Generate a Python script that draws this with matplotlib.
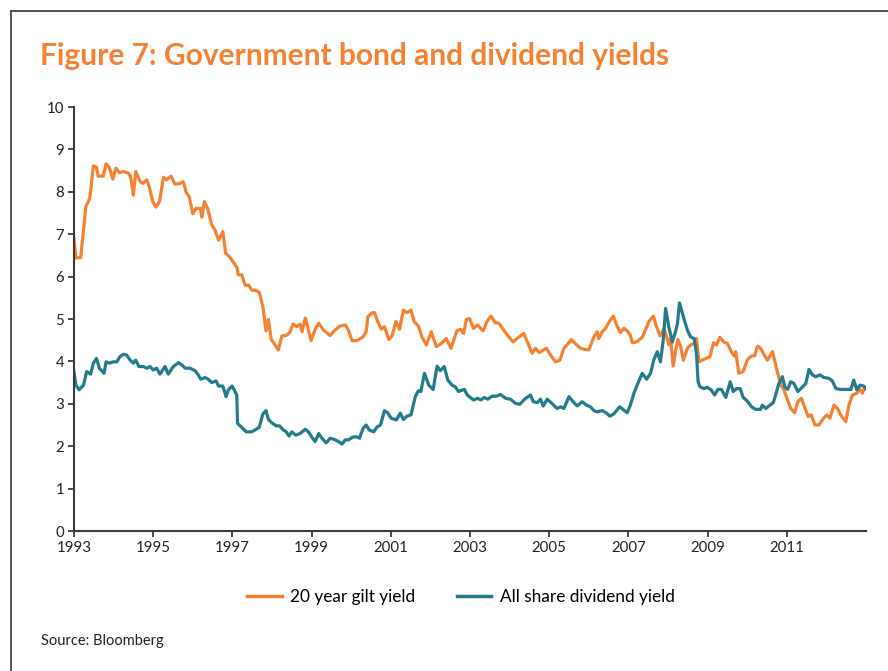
import numpy as np
import matplotlib
matplotlib.use("Agg")
import matplotlib.pyplot as plt
from matplotlib.lines import Line2D

START = 1993

# 20 year gilt yield (%), time given as years after start of 1993
gilt_t = [
    0.00, 0.05, 0.17, 0.30, 0.40, 0.49, 0.57, 0.61, 0.74, 0.81, 0.89, 0.98,
    1.06, 1.15, 1.25, 1.37, 1.43, 1.50, 1.56, 1.67, 1.74, 1.84, 1.90, 1.99,
    2.07, 2.16, 2.26, 2.34, 2.45, 2.55, 2.68, 2.76, 2.83, 2.91, 3.00, 3.08,
    3.19, 3.23, 3.29, 3.38, 3.48, 3.56, 3.65, 3.76, 3.83, 3.93, 4.03, 4.11,
    4.15, 4.24, 4.32, 4.41, 4.49, 4.58, 4.68, 4.77, 4.85, 4.91, 4.98, 5.08,
    5.16, 5.25, 5.38, 5.46, 5.53, 5.63, 5.71, 5.76, 5.84, 5.90, 5.99, 6.09,
    6.18, 6.30, 6.47, 6.57, 6.71, 6.85, 6.93, 7.02, 7.15, 7.30, 7.38, 7.42,
    7.53, 7.59, 7.67, 7.76, 7.84, 7.95, 8.03, 8.13, 8.22, 8.32, 8.41, 8.51,
    8.59, 8.70, 8.79, 8.90, 9.02, 9.15, 9.27, 9.40, 9.52, 9.67, 9.76, 9.84,
    9.91, 9.99, 10.09, 10.19, 10.33, 10.43, 10.53, 10.64, 10.73, 10.85, 10.98,
    11.09, 11.19, 11.36, 11.48, 11.57, 11.65, 11.75, 11.93, 12.05, 12.16,
    12.27, 12.37, 12.45, 12.56, 12.66, 12.79, 12.92, 13.00, 13.13, 13.21,
    13.25, 13.34, 13.42, 13.52, 13.62, 13.72, 13.80, 13.89, 13.97, 14.05,
    14.10, 14.21, 14.35, 14.43, 14.52, 14.63, 14.71, 14.80, 14.90, 14.98,
    15.02, 15.07, 15.13, 15.19, 15.25, 15.32, 15.39, 15.49, 15.57, 15.66,
    15.72, 15.78, 15.91, 16.06, 16.15, 16.23, 16.31, 16.41, 16.50, 16.60,
    16.67, 16.71, 16.79, 16.90, 17.00, 17.11, 17.19, 17.26, 17.34, 17.42,
    17.51, 17.64, 17.75, 17.85, 17.93, 18.02, 18.10, 18.20, 18.28, 18.37,
    18.45, 18.54, 18.62, 18.71, 18.81, 18.93, 19.01, 19.09, 19.19, 19.28,
    19.36, 19.49, 19.57, 19.66, 19.77, 19.85, 19.91, 19.97, 20.00,
]
gilt_yield = [
    6.90, 6.44, 6.45, 7.65, 7.85, 8.61, 8.58, 8.37, 8.37, 8.66, 8.58, 8.30,
    8.56, 8.45, 8.48, 8.44, 8.36, 7.92, 8.48, 8.24, 8.20, 8.28, 8.12, 7.77,
    7.64, 7.77, 8.34, 8.28, 8.37, 8.18, 8.20, 8.24, 8.00, 7.88, 7.48, 7.61,
    7.61, 7.40, 7.77, 7.59, 7.22, 7.10, 6.86, 7.06, 6.55, 6.47, 6.33, 6.23,
    6.04, 6.04, 5.80, 5.80, 5.68, 5.68, 5.63, 5.29, 4.72, 4.99, 4.52, 4.39,
    4.27, 4.60, 4.62, 4.70, 4.88, 4.82, 4.88, 4.70, 5.02, 4.82, 4.49, 4.76,
    4.90, 4.74, 4.61, 4.72, 4.83, 4.86, 4.74, 4.49, 4.49, 4.58, 4.70, 5.05,
    5.15, 5.15, 4.94, 4.76, 4.82, 4.52, 4.60, 4.94, 4.76, 5.21, 5.15, 5.21,
    4.94, 4.83, 4.57, 4.39, 4.70, 4.35, 4.42, 4.54, 4.31, 4.72, 4.76, 4.66,
    4.99, 5.01, 4.78, 4.86, 4.72, 4.94, 5.07, 4.91, 4.90, 4.74, 4.58,
    4.46, 4.54, 4.66, 4.39, 4.19, 4.31, 4.21, 4.31, 4.13, 3.99,
    4.03, 4.31, 4.39, 4.52, 4.42, 4.31, 4.28, 4.27, 4.58, 4.70,
    4.54, 4.70, 4.78, 4.94, 5.07, 4.82, 4.68, 4.78, 4.72, 4.62,
    4.44, 4.46, 4.57, 4.74, 4.94, 5.07, 4.82, 4.60, 4.78, 4.54,
    4.39, 4.54, 3.89, 4.23, 4.52, 4.35, 4.03, 4.31, 4.39, 4.42,
    4.54, 3.99, 4.05, 4.11, 4.44, 4.39, 4.57, 4.46, 4.42, 4.23,
    4.13, 4.23, 3.72, 3.76, 4.03, 4.13, 4.13, 4.36, 4.31, 4.17,
    4.03, 4.23, 3.80, 3.44, 3.33, 3.09, 2.89, 2.79, 3.05, 3.13,
    2.93, 2.70, 2.74, 2.50, 2.50, 2.66, 2.74, 2.66, 2.97, 2.89,
    2.74, 2.58, 2.97, 3.21, 3.25, 3.34, 3.25, 3.40, 3.36,
]

# FTSE All-Share dividend yield (%)
div_t = [
    0.00, 0.05, 0.13, 0.24, 0.32, 0.42, 0.49, 0.57, 0.64, 0.76, 0.81, 0.89,
    0.99, 1.08, 1.16, 1.25, 1.33, 1.42, 1.50, 1.56, 1.64, 1.75, 1.84, 1.92,
    2.00, 2.09, 2.17, 2.30, 2.38, 2.51, 2.64, 2.72, 2.81, 2.93, 3.06, 3.14,
    3.20, 3.31, 3.39, 3.48, 3.59, 3.65, 3.76, 3.84, 3.90, 3.99, 4.04, 4.11,
    4.13, 4.24, 4.35, 4.49, 4.60, 4.68, 4.77, 4.85, 4.91, 5.00, 5.11, 5.19,
    5.29, 5.36, 5.43, 5.50, 5.60, 5.71, 5.84, 5.92, 6.01, 6.09, 6.18, 6.26,
    6.37, 6.47, 6.60, 6.68, 6.77, 6.85, 6.93, 7.05, 7.15, 7.21, 7.30, 7.38,
    7.46, 7.57, 7.65, 7.74, 7.84, 7.92, 8.01, 8.14, 8.24, 8.32, 8.41, 8.51,
    8.62, 8.70, 8.76, 8.85, 8.96, 9.07, 9.17, 9.25, 9.35, 9.44, 9.55, 9.63,
    9.71, 9.76, 9.86, 9.93, 10.09, 10.19, 10.28, 10.36, 10.45, 10.56, 10.67,
    10.77, 10.90, 11.02, 11.15, 11.26, 11.38, 11.53, 11.60, 11.70, 11.78,
    11.85, 11.95, 12.08, 12.20, 12.29, 12.37, 12.50, 12.62, 12.71, 12.83,
    12.94, 13.04, 13.13, 13.21, 13.34, 13.45, 13.53, 13.63, 13.78, 13.89,
    13.97, 14.05, 14.14, 14.22, 14.35, 14.46, 14.56, 14.64, 14.73, 14.81,
    14.88, 14.94, 15.02, 15.11, 15.19, 15.24, 15.29, 15.39, 15.49, 15.57,
    15.66, 15.72, 15.76, 15.81, 15.91, 15.99, 16.09, 16.18, 16.26, 16.35,
    16.46, 16.57, 16.65, 16.73, 16.82, 16.90, 17.00, 17.11, 17.21, 17.34,
    17.38, 17.47, 17.55, 17.66, 17.72, 17.80, 17.89, 17.95, 18.02, 18.10,
    18.18, 18.28, 18.40, 18.48, 18.56, 18.65, 18.73, 18.84, 18.94, 19.07,
    19.15, 19.24, 19.36, 19.53, 19.62, 19.69, 19.77, 19.85, 19.94, 20.00,
]
div_yield = [
    3.76, 3.44, 3.33, 3.44, 3.76, 3.70, 3.96, 4.07, 3.84, 3.72, 3.99, 3.96,
    3.99, 3.99, 4.11, 4.17, 4.15, 4.03, 3.96, 4.03, 3.88, 3.88, 3.84, 3.88,
    3.80, 3.84, 3.70, 3.88, 3.70, 3.88, 3.97, 3.92, 3.84, 3.84, 3.78, 3.68,
    3.58, 3.62, 3.58, 3.50, 3.54, 3.42, 3.42, 3.17, 3.33, 3.42, 3.34, 3.21,
    2.54, 2.44, 2.34, 2.34, 2.40, 2.45, 2.76, 2.84, 2.63, 2.55, 2.48, 2.48,
    2.38, 2.34, 2.24, 2.34, 2.26, 2.30, 2.40, 2.34, 2.21, 2.11, 2.30, 2.19,
    2.08, 2.19, 2.15, 2.11, 2.05, 2.15, 2.15, 2.22, 2.22, 2.19, 2.42, 2.50,
    2.38, 2.34, 2.45, 2.50, 2.84, 2.79, 2.66, 2.62, 2.78, 2.63, 2.71, 2.74,
    3.17, 3.31, 3.29, 3.72, 3.44, 3.34, 3.89, 3.78, 3.88, 3.56, 3.44, 3.40,
    3.29, 3.31, 3.34, 3.21, 3.09, 3.13, 3.09, 3.15, 3.11, 3.18, 3.18,
    3.22, 3.13, 3.11, 3.01, 2.99, 3.11, 3.21, 3.05, 3.03, 3.11,
    2.95, 3.11, 3.00, 2.89, 2.93, 2.89, 3.17, 3.03, 2.95, 3.05,
    2.97, 2.93, 2.84, 2.81, 2.84, 2.78, 2.71, 2.76, 2.93, 2.85,
    2.79, 2.97, 3.25, 3.44, 3.72, 3.58, 3.72, 4.03, 4.23, 3.99,
    4.50, 5.25, 4.82, 4.46, 4.70, 4.90, 5.38, 5.05, 4.74, 4.58,
    4.54, 4.19, 3.52, 3.40, 3.36, 3.39, 3.33, 3.21, 3.34, 3.34,
    3.15, 3.52, 3.29, 3.36, 3.36, 3.15, 3.07, 2.93, 2.87, 2.87,
    2.97, 2.89, 2.95, 3.03, 3.21, 3.48, 3.64, 3.40, 3.34, 3.52,
    3.48, 3.29, 3.40, 3.48, 3.81, 3.68, 3.64, 3.68, 3.62, 3.60,
    3.54, 3.36, 3.34, 3.34, 3.34, 3.56, 3.33, 3.44, 3.42, 3.36,
]

year_ticks = list(range(1993, 2012, 2))
value_ticks = list(range(0, 11))

ORANGE = "#F58233"
TEAL = "#237B8B"
AXIS = "#3a3a3a"
FONT = "Lato"

plt.rcParams["font.family"] = [FONT, "DejaVu Sans"]

fig = plt.figure(figsize=(8.88, 6.71), dpi=100)
ax = fig.add_axes([0.0833, 0.2086, 0.8919, 0.6319])

ax.plot(START + np.array(gilt_t), gilt_yield, color=ORANGE, lw=2.3,
        solid_joinstyle="round", label="20 year gilt yield")
ax.plot(START + np.array(div_t), div_yield, color=TEAL, lw=2.3,
        solid_joinstyle="round", label="All share dividend yield")

ax.set_xlim(1993, 2013)
ax.set_ylim(0, 10)
ax.set_xticks(year_ticks)
ax.set_yticks(value_ticks)
ax.tick_params(axis="both", direction="out", length=4, width=1.3,
               color=AXIS, labelsize=10.8, labelcolor="#222222", pad=3)
for side in ("top", "right"):
    ax.spines[side].set_visible(False)
for side in ("left", "bottom"):
    ax.spines[side].set_color(AXIS)
    ax.spines[side].set_linewidth(1.5)

handles = [Line2D([], [], color=ORANGE, lw=2.5),
           Line2D([], [], color=TEAL, lw=2.5)]
fig.legend(handles, ["20 year gilt yield", "All share dividend yield"],
           loc="center", bbox_to_anchor=(0.519, 0.110), ncol=2,
           frameon=False, fontsize=12.4, handlelength=2.0,
           handletextpad=0.5, columnspacing=2.4)

fig.text(0.045, 0.903, "Figure 7: Government bond and dividend yields",
         color=ORANGE, fontsize=21.5, fontweight="bold", va="baseline")
fig.text(0.046, 0.039, "Source: Bloomberg", color="#222222", fontsize=10.5,
         va="baseline")

# outer frame, open on the right and bottom edges
fig.add_artist(Line2D([0.0124, 0.0124], [0.0, 0.9836], color="#444444",
                      lw=1.3, transform=fig.transFigure))
fig.add_artist(Line2D([0.0124, 1.0], [0.9836, 0.9836], color="#444444",
                      lw=1.3, transform=fig.transFigure))

fig.savefig("out.png", dpi=100)
